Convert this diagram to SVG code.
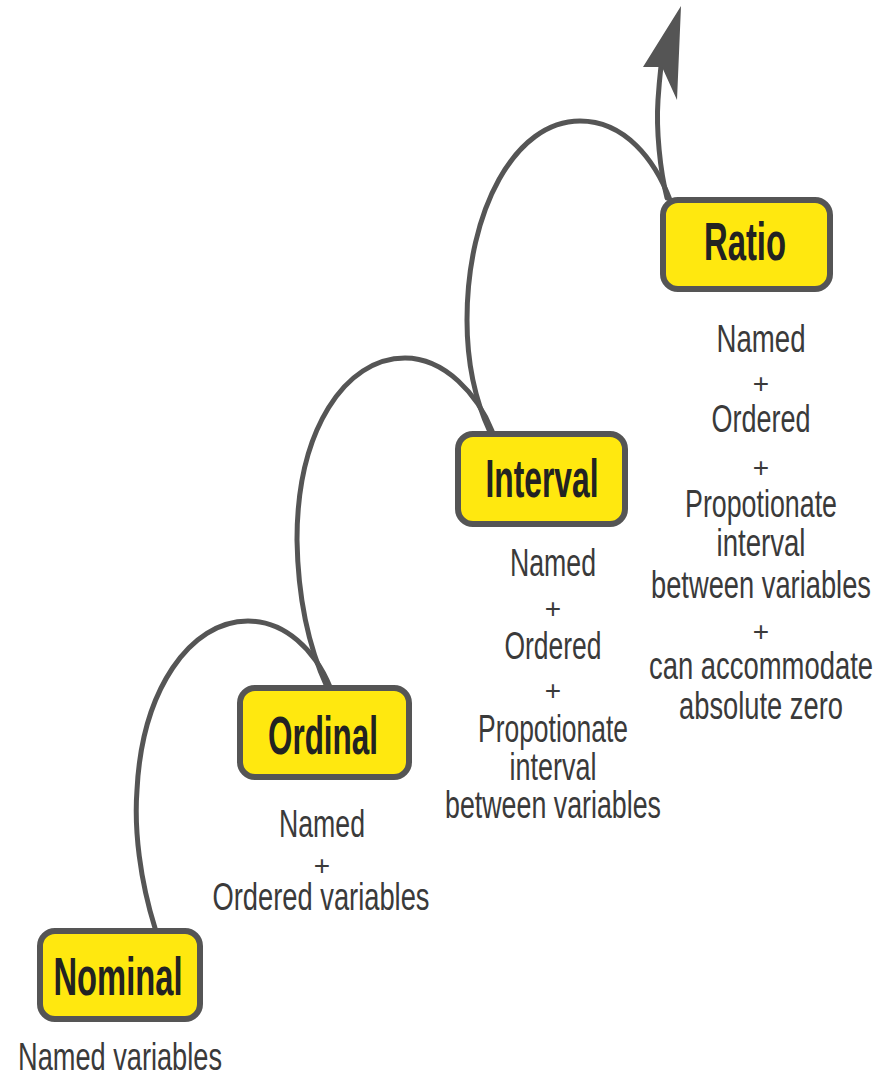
<svg xmlns="http://www.w3.org/2000/svg" width="885" height="1079" viewBox="0 0 885 1079">
<style>
.box{fill:#FFE80F;stroke:#555;stroke-width:6}
.lbl{font-family:"Liberation Sans",Arial,sans-serif;font-weight:bold;font-size:54px;fill:#222;text-anchor:middle}
.cap{font-family:"Liberation Sans",Arial,sans-serif;font-size:38px;fill:#3a3a3a;text-anchor:middle}
.plus{font-family:"Liberation Sans",Arial,sans-serif;font-size:28px;fill:#3a3a3a;text-anchor:middle}
.con{fill:none;stroke:#555;stroke-width:5;stroke-linecap:round}
</style>
<rect width="885" height="1079" fill="#fff"/>
<g id="connectors">
<path class="con" d="M155,928 C140,880 134,830 137,790 C142,690 190,621 248,621 C285,621 315,650 330,687"/>
<path class="con" d="M327,687 C310,650 298,600 297,540 C297,430 345,358 405,358 C445,358 478,395 492,431"/>
<path class="con" d="M490,432 C475,400 467,365 467,320 C467,210 515,121 580,121 C625,121 655,160 670,200"/>
<path class="con" d="M667,198 C660,170 656,130 658,100 C659,85 660,75 661,66"/>
<polygon points="681,6 643,67 662,67 677,100" fill="#555"/>
</g>
<g id="nominal">
<rect class="box" x="40" y="931" width="160" height="88" rx="15"/>
<text class="lbl" x="118" y="995" textLength="129" lengthAdjust="spacingAndGlyphs">Nominal</text>
<text class="cap" x="120" y="1070" textLength="204" lengthAdjust="spacingAndGlyphs">Named variables</text>
</g>
<g id="ordinal">
<rect class="box" x="240" y="688" width="169" height="89" rx="15"/>
<text class="lbl" x="323" y="754" textLength="110" lengthAdjust="spacingAndGlyphs">Ordinal</text>
<text class="cap" x="322" y="837" textLength="86" lengthAdjust="spacingAndGlyphs">Named</text>
<text class="plus" x="322" y="875">+</text>
<text class="cap" x="321" y="910" textLength="217" lengthAdjust="spacingAndGlyphs">Ordered variables</text>
</g>
<g id="interval">
<rect class="box" x="458" y="434" width="167" height="90" rx="15"/>
<text class="lbl" x="542" y="497" textLength="113" lengthAdjust="spacingAndGlyphs">Interval</text>
<text class="cap" x="553" y="576" textLength="86" lengthAdjust="spacingAndGlyphs">Named</text>
<text class="plus" x="553" y="618">+</text>
<text class="cap" x="553" y="659" textLength="97" lengthAdjust="spacingAndGlyphs">Ordered</text>
<text class="plus" x="553" y="700">+</text>
<text class="cap" x="553" y="742" textLength="150" lengthAdjust="spacingAndGlyphs">Propotionate</text>
<text class="cap" x="553" y="780" textLength="87" lengthAdjust="spacingAndGlyphs">interval</text>
<text class="cap" x="553" y="818" textLength="216" lengthAdjust="spacingAndGlyphs">between variables</text>
</g>
<g id="ratio">
<rect class="box" x="663" y="200" width="167" height="89" rx="15"/>
<text class="lbl" x="745" y="260" textLength="82" lengthAdjust="spacingAndGlyphs">Ratio</text>
<text class="cap" x="761" y="352" textLength="89" lengthAdjust="spacingAndGlyphs">Named</text>
<text class="plus" x="761" y="393">+</text>
<text class="cap" x="761" y="432" textLength="99" lengthAdjust="spacingAndGlyphs">Ordered</text>
<text class="plus" x="761" y="477">+</text>
<text class="cap" x="761" y="517" textLength="152" lengthAdjust="spacingAndGlyphs">Propotionate</text>
<text class="cap" x="761" y="556" textLength="89" lengthAdjust="spacingAndGlyphs">interval</text>
<text class="cap" x="761" y="598" textLength="220" lengthAdjust="spacingAndGlyphs">between variables</text>
<text class="plus" x="761" y="641">+</text>
<text class="cap" x="761" y="679" textLength="224" lengthAdjust="spacingAndGlyphs">can accommodate</text>
<text class="cap" x="761" y="719" textLength="164" lengthAdjust="spacingAndGlyphs">absolute zero</text>
</g>
</svg>
